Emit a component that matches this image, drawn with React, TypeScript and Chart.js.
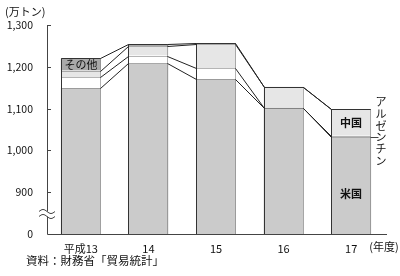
import React, { useEffect, useRef } from "react";
import { Chart, registerables } from "chart.js";

Chart.register(...registerables);

const categories = ["平成13", "14", "15", "16", "17"];
const usValues = [1149, 1208, 1171, 1102, 1031];
const argentinaValues = [26, 19, 26, 0, 4];
const chinaValues = [16, 22, 57, 50, 63];
const otherValues = [29, 5, 3, 0, 0];
const yTickValues = [800, 900, 1000, 1100, 1200, 1300];
const yTickLabels = ["0", "900", "1,000", "1,100", "1,200", "1,300"];

const FONT = '"Noto Sans CJK JP", "Noto Sans", sans-serif';

const overlayPlugin = {
  id: "overlay",
  afterDatasetsDraw(chart: any) {
    const ctx = chart.ctx as CanvasRenderingContext2D;
    const ys = chart.scales.y;
    const area = chart.chartArea;
    const series = [usValues, argentinaValues, chinaValues, otherValues];
    const tops = categories.map((_, i) => {
      let s = 0;
      return series.map((arr) => (s += arr[i]));
    });
    const meta = chart.getDatasetMeta(0);
    const edges = meta.data.map((el: any) => {
      const p = el.getProps(["x", "width"], true);
      return [Math.round(p.x - p.width / 2) + 0.5, Math.round(p.x + p.width / 2) - 0.5];
    });
    const py = (v: number) => Math.round(ys.getPixelForValue(v)) + 0.5;
    const base = py(800);

    ctx.save();
    ctx.lineWidth = 1;
    categories.forEach((_, i) => {
      const [l, r] = edges[i];
      ctx.strokeStyle = "#6a6a6a";
      ctx.setLineDash([1, 1]);
      const topVal = tops[i][3];
      tops[i].forEach((t) => {
        ctx.beginPath();
        ctx.moveTo(l, py(t));
        ctx.lineTo(r, py(t));
        ctx.stroke();
      });
      ctx.beginPath();
      ctx.moveTo(r, py(topVal));
      ctx.lineTo(r, base);
      ctx.stroke();
      ctx.setLineDash([]);
      ctx.strokeStyle = "#333";
      ctx.beginPath();
      ctx.moveTo(l, py(topVal));
      ctx.lineTo(l, base);
      ctx.stroke();
      ctx.beginPath();
      ctx.moveTo(l, py(topVal));
      ctx.lineTo(r, py(topVal));
      ctx.stroke();
    });

    ctx.strokeStyle = "#222";
    for (let i = 0; i < categories.length - 1; i++) {
      const r = edges[i][1];
      const l = edges[i + 1][0];
      for (let j = 0; j < 4; j++) {
        ctx.beginPath();
        ctx.moveTo(r, py(tops[i][j]));
        ctx.lineTo(l, py(tops[i + 1][j]));
        ctx.stroke();
      }
    }

    ctx.strokeStyle = "#444";
    ctx.beginPath();
    ctx.moveTo(area.left + 0.5, area.top);
    ctx.lineTo(area.left + 0.5, base);
    ctx.lineTo(area.right + 2, base);
    ctx.stroke();
    yTickValues.forEach((v) => {
      if (v === 800) return;
      ctx.beginPath();
      ctx.moveTo(area.left, py(v));
      ctx.lineTo(area.left + 4, py(v));
      ctx.stroke();
    });

    const by = (py(900) + base) / 2;
    ctx.fillStyle = "#fff";
    ctx.fillRect(area.left - 6, by - 2, 13, 5);
    ctx.strokeStyle = "#444";
    [by - 2, by + 3].forEach((yy) => {
      ctx.beginPath();
      for (let k = 0; k <= 16; k++) {
        const x = area.left - 8 + k;
        const y = yy - 2 * Math.sin((k / 16) * Math.PI * 2);
        if (k === 0) ctx.moveTo(x, y);
        else ctx.lineTo(x, y);
      }
      ctx.stroke();
    });

    ctx.fillStyle = "#111";
    ctx.textAlign = "center";
    ctx.textBaseline = "middle";
    ctx.font = `11px ${FONT}`;
    const c0 = (edges[0][0] + edges[0][1]) / 2;
    ctx.fillText("その他", c0, (py(tops[0][2]) + py(tops[0][3])) / 2);
    const c4 = (edges[4][0] + edges[4][1]) / 2;
    ctx.font = `bold 11px ${FONT}`;
    ctx.fillText("中国", c4, (py(tops[4][1]) + py(tops[4][2])) / 2);
    ctx.fillText("米国", c4, py(900) + 1);

    ctx.font = `11px ${FONT}`;
    const argY = (py(tops[4][0]) + py(usValues[4])) / 2;
    ctx.strokeStyle = "#444";
    ctx.beginPath();
    ctx.moveTo(edges[4][1], argY);
    ctx.lineTo(edges[4][1] + 8, argY);
    ctx.stroke();
    const chars = ["ア", "ル", "ゼ", "ン", "チ", "ン"];
    chars.forEach((ch, k) => {
      ctx.fillText(ch, 381, 102 + k * 11.7);
    });

    ctx.textAlign = "left";
    ctx.font = `11px ${FONT}`;
    ctx.fillText("(万トン)", 5, 12);
    ctx.textAlign = "center";
    ctx.fillText("(年度)", 384, 247);
    ctx.textAlign = "left";
    ctx.font = `11.5px ${FONT}`;
    ctx.fillText("資料：財務省「貿易統計」", 26, 261);
    ctx.restore();
  },
};

export default function App() {
  const ref = useRef<HTMLCanvasElement | null>(null);
  useEffect(() => {
    if (!ref.current) return;
    const mk = (label: string, data: number[], color: string) => ({
      label,
      data,
      backgroundColor: color,
      borderWidth: 0,
      categoryPercentage: 1,
      barPercentage: 0.59,
    });
    const chart = new Chart(ref.current, {
      type: "bar",
      data: {
        labels: categories,
        datasets: [
          mk("米国", usValues, "#cbcbcb"),
          mk("アルゼンチン", argentinaValues, "#ffffff"),
          mk("中国", chinaValues, "#e6e6e6"),
          mk("その他", otherValues, "#a9a9a9"),
        ],
      },
      options: {
        responsive: false,
        animation: false,
        devicePixelRatio: 1,
        layout: { padding: { left: 0, right: 15, top: 25, bottom: 22 } },
        plugins: { legend: { display: false }, tooltip: { enabled: false } },
        scales: {
          x: {
            stacked: true,
            grid: { display: false, drawTicks: false },
            border: { display: false },
            ticks: { padding: 8, color: "#111", font: { family: FONT, size: 11 } },
            afterFit: (s: any) => {
              s.height = 20;
            },
          },
          y: {
            stacked: true,
            min: 800,
            max: 1300,
            afterBuildTicks: (s: any) => {
              s.ticks = yTickValues.map((v) => ({ value: v }));
            },
            grid: { display: false, drawTicks: false },
            border: { display: false },
            ticks: {
              padding: 14,
              color: "#111",
              font: { family: FONT, size: 10.5 },
              callback: (v: any) => {
                const i = yTickValues.indexOf(Number(v));
                return i >= 0 ? yTickLabels[i] : "";
              },
            },
            afterFit: (s: any) => {
              s.width = 47;
            },
          },
        },
      },
      plugins: [overlayPlugin],
    });
    return () => chart.destroy();
  }, []);
  return (
    <div style={{ position: "fixed", left: 0, top: 0, width: 400, height: 276, background: "#fff" }}>
      <canvas ref={ref} width={400} height={276} style={{ width: 400, height: 276, display: "block" }} />
    </div>
  );
}
